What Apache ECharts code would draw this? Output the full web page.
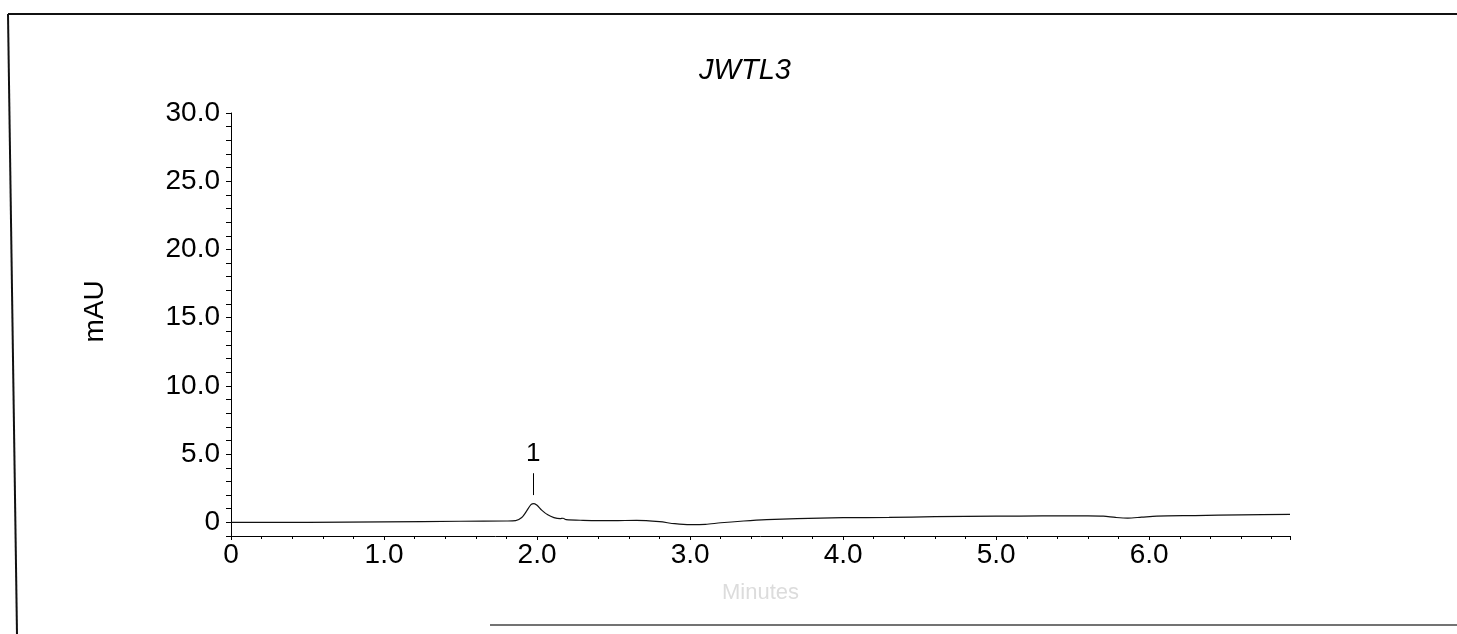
<!DOCTYPE html>
<html>
<head>
<meta charset="utf-8">
<title>JWTL3</title>
<script src="https://cdn.jsdelivr.net/npm/echarts@6/dist/echarts.min.js"></script>
<style>
	html, body {
		margin: 0;
		padding: 0;
		background: #fff;
	}
	#chart {
		width: 1457px;
		height: 634px;
	}
</style>
</head>
<body>
<div id="chart"></div>
<script>
// retention time (min) and absorbance (mAU)
const times = [0, 0.5, 1.0, 1.5, 1.8, 1.86, 1.9, 1.93, 1.96, 1.98, 2.0, 2.03, 2.07, 2.11, 2.15, 2.17, 2.19, 2.3, 2.5, 2.65, 2.8, 2.9, 3.0, 3.1, 3.2, 3.35, 3.5, 3.7, 4.0, 4.3, 4.6, 5.0, 5.3, 5.6, 5.7, 5.78, 5.86, 5.95, 6.05, 6.3, 6.6, 6.92];
const mAU = [0, 0, 0.03, 0.08, 0.1, 0.13, 0.35, 0.8, 1.3, 1.37, 1.25, 0.9, 0.55, 0.35, 0.27, 0.3, 0.2, 0.15, 0.12, 0.15, 0.05, -0.1, -0.17, -0.15, -0.03, 0.1, 0.2, 0.28, 0.34, 0.36, 0.42, 0.45, 0.47, 0.47, 0.45, 0.36, 0.31, 0.38, 0.46, 0.5, 0.55, 0.58];

// peak marker
const peakNames = ['1'];
const peakTimes = [1.975];

const yLabels = [0, 5, 10, 15, 20, 25, 30];

const font = 'Liberation Sans, Arial, sans-serif';

const chart = echarts.init(document.getElementById('chart'));

const option = {
	animation: false,
	backgroundColor: '#fff',
	title: {
		text: 'JWTL3',
		left: 745,
		top: 56,
		padding: 0,
		textAlign: 'center',
		textStyle: {
			fontFamily: font,
			fontStyle: 'italic',
			fontWeight: 'normal',
			fontSize: 29,
			color: '#000',
		},
	},
	grid: {
		left: 231,
		right: 167,
		top: 113,
		bottom: 98,
	},
	xAxis: {
		type: 'value',
		min: 0,
		max: 6.92,
		interval: 1,
		name: 'Minutes',
		nameLocation: 'middle',
		nameGap: 46,
		nameTextStyle: { fontFamily: font, fontSize: 22, color: '#dcdcdc' },
		axisLine: { onZero: false, lineStyle: { color: '#000', width: 1 } },
		axisTick: { length: 4, lineStyle: { color: '#000' } },
		minorTick: { show: true, splitNumber: 5, length: 3, lineStyle: { color: '#000' } },
		splitLine: { show: false },
		axisLabel: {
			margin: 5,
			showMaxLabel: false,
			fontFamily: font,
			fontSize: 28,
			color: '#000',
			formatter: (v) => (v === 0 ? '0' : v.toFixed(1)),
		},
	},
	yAxis: {
		type: 'value',
		min: -1,
		max: 30,
		interval: 1,
		name: 'mAU',
		nameLocation: 'middle',
		nameRotate: 90,
		nameGap: 122,
		nameTextStyle: { fontFamily: font, fontSize: 28, color: '#000', padding: [0, 0, 0, 26] },
		axisLine: { show: true, onZero: false, lineStyle: { color: '#000', width: 1 } },
		axisTick: { length: 5, lineStyle: { color: '#000' } },
		splitLine: { show: false },
		axisLabel: {
			margin: 11,
			fontFamily: font,
			fontSize: 28,
			color: '#000',
			formatter: (v) => {
				if (!yLabels.includes(v)) return '';
				return v === 0 ? '0' : v.toFixed(1);
			},
		},
	},
	series: [
		{
			type: 'line',
			data: times.map((t, i) => [t, mAU[i]]),
			smooth: 0.3,
			showSymbol: false,
			lineStyle: { color: '#111', width: 1.2 },
			markLine: {
				silent: true,
				symbol: 'none',
				lineStyle: { color: '#000', width: 1, type: 'solid' },
				label: {
					show: true,
					position: 'end',
					distance: 6,
					fontFamily: font,
					fontSize: 26,
					color: '#000',
					formatter: (p) => p.name,
				},
				data: peakNames.map((n, i) => [
					{ name: n, coord: [peakTimes[i], 2.0] },
					{ coord: [peakTimes[i], 3.6] },
				]),
			},
		},
	],
	// scanned page frame
	graphic: [
		{ type: 'line', shape: { x1: 8, y1: 14, x2: 17, y2: 634 }, style: { stroke: '#111', lineWidth: 2 } },
		{ type: 'line', shape: { x1: 8, y1: 14, x2: 1457, y2: 14 }, style: { stroke: '#111', lineWidth: 2 } },
		{ type: 'line', shape: { x1: 490, y1: 625, x2: 1457, y2: 625 }, style: { stroke: '#444', lineWidth: 1.5 } },
	],
};

chart.setOption(option);
</script>
</body>
</html>
